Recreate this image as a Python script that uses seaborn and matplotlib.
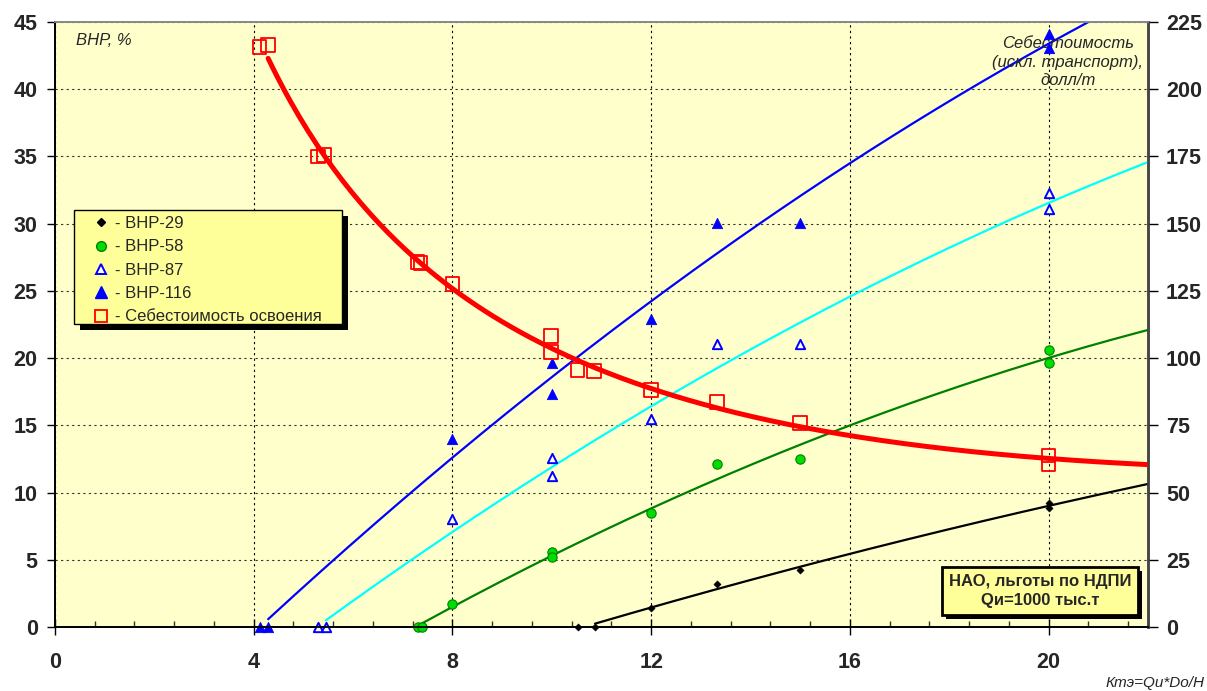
import numpy as np
import pandas as pd
import matplotlib
matplotlib.use("Agg")
import matplotlib.pyplot as plt
import matplotlib.patheffects as pe
from matplotlib.lines import Line2D
from matplotlib.patches import Rectangle
from matplotlib.ticker import MultipleLocator
import seaborn as sns

# ---------------- data ----------------
x29 = [10.52, 10.87, 12.0, 13.32, 15.0, 20.0, 20.0]
y29 = [0.0, 0.0, 1.44, 3.18, 4.22, 9.2, 8.85]

x58 = [7.30, 7.38, 8.0, 10.0, 10.0, 12.0, 13.32, 15.0, 20.0, 20.0]
y58 = [0.0, 0.0, 1.71, 5.6, 5.23, 8.46, 12.15, 12.5, 20.6, 19.6]

x87 = [5.29, 5.45, 8.0, 10.0, 10.0, 12.0, 13.32, 15.0, 20.0, 20.0]
y87 = [0.0, 0.0, 8.0, 12.6, 11.2, 15.5, 21.05, 21.05, 32.3, 31.1]

x116 = [4.12, 4.29, 8.0, 10.0, 10.0, 12.0, 13.32, 15.0, 20.0, 20.0]
y116 = [0.0, 0.0, 13.96, 19.67, 17.3, 22.9, 30.08, 30.08, 44.1, 43.1]

xcost = [4.12, 4.29, 5.29, 5.41, 7.30, 7.36, 8.0, 9.98, 9.98, 10.52, 10.85,
         12.0, 13.32, 15.0, 20.0, 20.0]
ycost = [215.8, 216.5, 175.0, 175.6, 135.8, 135.4, 127.6, 108.2, 102.3, 95.6,
         95.2, 88.2, 83.6, 75.8, 63.8, 60.4]

labels = ["- ВНР-29", "- ВНР-58", "- ВНР-87", "- ВНР-116", "- Себестоимость освоения"]
xticks = [0, 4, 8, 12, 16, 20]

# ---------------- style ----------------
sns.set_style("white")
plt.rcParams["font.family"] = ["Liberation Sans", "DejaVu Sans"]

W, H = 1207, 691
fig = plt.figure(figsize=(W / 100, H / 100), dpi=100)
AX_L, AX_R, AX_T, AX_B = 55, 1148, 22, 627
ax = fig.add_axes([AX_L / W, 1 - AX_B / H, (AX_R - AX_L) / W, (AX_B - AX_T) / H])
ax.set_facecolor("#FFFFCC")
ax2 = ax.twinx()


def axfrac(px, py):
    return (px - AX_L) / (AX_R - AX_L), (AX_B - py) / (AX_B - AX_T)


def trend(xs, ys, deg, x_end=22.0):
    xs = np.asarray(xs)
    ys = np.asarray(ys)
    c = np.polyfit(xs, ys, deg)
    start = xs[ys == 0].max()
    xx = np.linspace(start, x_end, 200)
    return xx, np.polyval(c, xx)


# trend lines
for xs, ys, col in [(x29, y29, "black"), (x58, y58, "#008000"),
                    (x87, y87, "#00FFFF"), (x116, y116, "#0000FF")]:
    xx, yy = trend(xs, ys, 2)
    sns.lineplot(x=xx, y=yy, ax=ax, color=col, lw=1.6, zorder=3)

# markers
sns.scatterplot(x=x29, y=y29, ax=ax, marker="D", color="black", s=14,
                edgecolor="black", zorder=5, clip_on=False)
sns.scatterplot(x=x58, y=y58, ax=ax, marker="o", color="#00DD00", s=45,
                edgecolor="#008000", linewidth=0.8, zorder=5, clip_on=False)
sns.scatterplot(x=x87, y=y87, ax=ax, marker="^", facecolor="white", s=45,
                edgecolor="#0000FF", linewidth=1.4, zorder=5, clip_on=False)
sns.scatterplot(x=x116, y=y116, ax=ax, marker="^", color="#0000FF", s=55,
                edgecolor="#0000FF", zorder=5, clip_on=False)

# cost (right axis) – logarithmic quadratic trend
xc = np.asarray(xcost)
cc = np.polyfit(np.log(xc), np.asarray(ycost), 2)
xx = np.linspace(xc[1], 22, 200)
sns.lineplot(x=xx, y=np.polyval(cc, np.log(xx)), ax=ax2, color="#FF0000", lw=3.6,
             zorder=4)
sns.scatterplot(x=xcost, y=ycost, ax=ax2, marker="s", facecolor="none", s=95,
                edgecolor="#FF0000", linewidth=1.3, zorder=6, clip_on=False)

# axes limits / ticks
ax.set_xlim(0, 22)
ax.set_ylim(0, 45)
ax2.set_ylim(0, 225)
ax.set_xticks(xticks)
ax.xaxis.set_minor_locator(MultipleLocator(0.8))
ax.yaxis.set_major_locator(MultipleLocator(5))
ax2.yaxis.set_major_locator(MultipleLocator(25))

ax.xaxis.grid(True, which="major", color="black", linestyle=(0, (2, 3)), lw=0.8)
ax.yaxis.grid(True, which="major", color="#333333", linestyle=(0, (2, 3)), lw=0.8)
ax.set_axisbelow(True)

for lab in ax.get_xticklabels() + ax.get_yticklabels() + ax2.get_yticklabels():
    lab.set_fontweight("bold")
    lab.set_fontsize(15.5)

ax.tick_params(axis="x", which="major", direction="inout", length=12, width=1,
               pad=12, color="black", bottom=True)
ax.tick_params(axis="x", which="minor", direction="in", length=4, width=1,
               color="#333333", bottom=True)
ax.tick_params(axis="y", which="major", direction="out", length=5.5, width=1,
               pad=7, color="black", left=True)
ax2.tick_params(axis="y", which="major", direction="out", length=7, width=1,
                pad=6, color="black", right=True)

for a in (ax, ax2):
    a.spines["left"].set_color("black")
    a.spines["left"].set_linewidth(1.3)
    a.spines["bottom"].set_color("black")
    a.spines["bottom"].set_linewidth(1.3)
    a.spines["top"].set_color("#888888")
    a.spines["top"].set_linewidth(1.3)
    a.spines["right"].set_color("#444444")
    a.spines["right"].set_linewidth(1.8)
ax.set_xlabel("")
ax.set_ylabel("")
ax2.set_ylabel("")

# texts
ax.text(*axfrac(76, 40), "ВНР, %", transform=ax.transAxes,
        fontsize=12, fontstyle="italic", ha="left", va="center")
ax.text(*axfrac(1068, 62),
        "Себестоимость\n(искл. транспорт),\nдолл/т", transform=ax.transAxes,
        fontsize=12, fontstyle="italic", ha="center", va="center",
        linespacing=1.33)
fig.text(1205 / W, 1 - 683 / H, "Ктэ=Qи*Dо/Н", fontsize=11,
         fontstyle="italic", ha="right", va="center")

t = ax.text(*axfrac(1040, 591),
            "НАО, льготы по НДПИ\nQи=1000 тыс.т", transform=ax.transAxes,
            fontsize=12, fontweight="bold", ha="center", va="center",
            linespacing=1.3, zorder=10,
            bbox=dict(boxstyle="square,pad=0.42", facecolor="#FFFF99",
                      edgecolor="black", linewidth=2))
t.get_bbox_patch().set_path_effects([
    pe.SimplePatchShadow(offset=(3, -3), shadow_rgbFace="black", alpha=1.0),
    pe.Normal()])

# legend box (drawn as a patch with shadow) + frameless legend
bx0, by0 = axfrac(74, 324)
bx1, by1 = axfrac(342, 210)
box = Rectangle((bx0, by0), bx1 - bx0, by1 - by0, transform=ax2.transAxes,
                facecolor="#FFFF99", edgecolor="black", linewidth=1.0, zorder=19)
box.set_path_effects([
    pe.SimplePatchShadow(offset=(4, -4), shadow_rgbFace="black", alpha=1.0),
    pe.Normal()])
ax2.add_patch(box)

handles = [
    Line2D([], [], ls="none", marker="D", color="black", ms=4),
    Line2D([], [], ls="none", marker="o", mfc="#00DD00", mec="#008000", ms=7),
    Line2D([], [], ls="none", marker="^", mfc="white", mec="#0000FF", mew=1.4, ms=7),
    Line2D([], [], ls="none", marker="^", mfc="#0000FF", mec="#0000FF", ms=8),
    Line2D([], [], ls="none", marker="s", mfc="none", mec="#FF0000", mew=1.3, ms=8.5),
]
leg = ax2.legend(handles, labels, loc="upper left",
                 bbox_to_anchor=axfrac(92.5, 216),
                 fontsize=12, frameon=False, borderpad=0, labelspacing=0.5,
                 handletextpad=0.35, handlelength=1.0, borderaxespad=0)
leg.set_zorder(20)

fig.savefig("out.png", dpi=100, facecolor="white")
